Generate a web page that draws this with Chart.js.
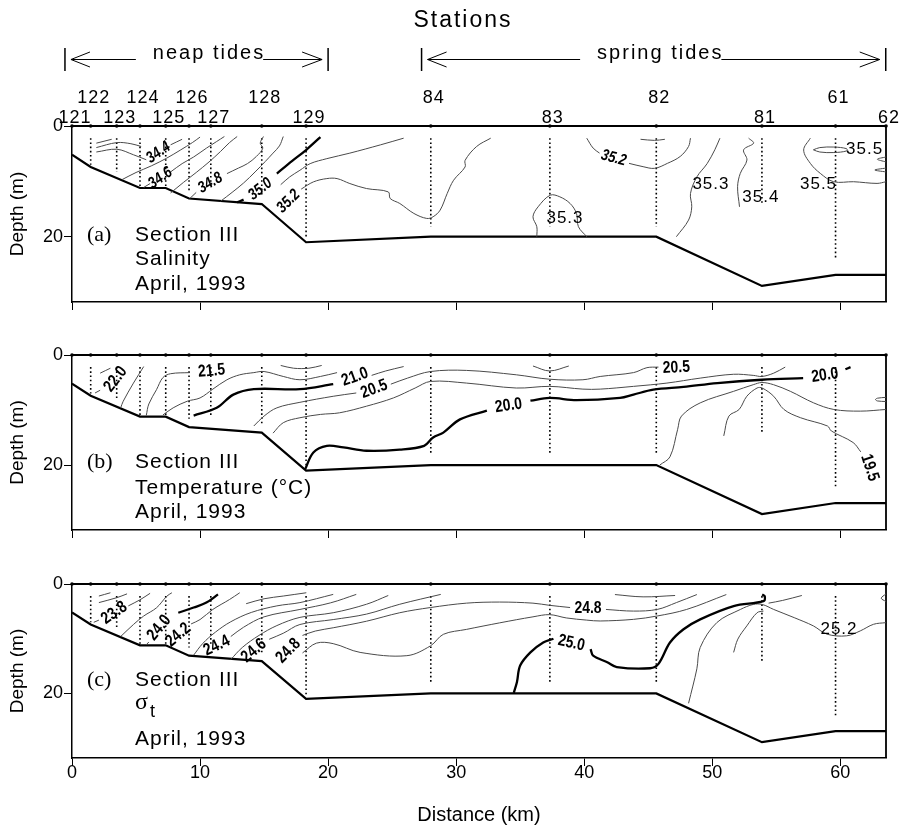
<!DOCTYPE html>
<html><head><meta charset="utf-8">
<script src="https://cdn.jsdelivr.net/npm/chart.js@4/dist/chart.umd.min.js"></script>
<style>
html,body{margin:0;padding:0;background:#fff;}
#wrap{position:relative;width:909px;height:833px;background:#fff;}
canvas{position:absolute;left:0;top:0;}
</style></head><body>
<div id="wrap">
<canvas id="ca" width="909" height="833"></canvas>
<canvas id="cb" width="909" height="833"></canvas>
<canvas id="cc" width="909" height="833"></canvas>
</div>
<script>
// ---------------- data ----------------
const stationNames = ['121','122','123','124','125','126','127','128','129','84','83','82','81','61','62'];
const stationKm    = [0, 1.46, 3.49, 5.31, 7.32, 9.14, 10.84, 14.82, 18.28, 28.02, 37.32, 45.63, 53.88, 59.63, 63.57];
const stationRow   = [2,1,2,1,2,1,2,1,2,1,2,1,2,1,2];
const castTop      = 2.2;
const castDepth    = [null, 7.0, 8.3, 11.0, 11.0, 11.6, 11.0, 12.8, 20.4, 18.2, 18.2, 18.2, 14.2, 24.2, null];
const bottomKm     = [0, 1.46, 5.31, 7.32, 9.14, 14.82, 18.28, 28.02, 45.63, 53.88, 59.63, 63.57];
const bottomDepth  = [5.2, 7.4, 11.2, 11.2, 13.1, 14.1, 21.0, 20.0, 20.0, 28.9, 26.9, 26.9];
const xTickStep = 10;
const yTickValues = [0, 20];
const xMax = 63.57, yMax = 31.8;
const neapSpan = [-0.55, 20.0], neapTextKm = 10.7;
const springSpan = [27.3, 63.55], springTextKm = 45.94;

// (a) salinity contours  [km, depth]; null = label gap
const sal_a1  = [[1.9,3.1],[3.1,2.4]];
const sal_a2  = [[1.9,3.9],[3.5,3.0],[4.6,3.2],[5.4,3.7]];
const sal_344 = [[1.9,4.7],[3.5,4.2],[4.8,5.2],[5.8,6.1],null,[7.7,3.4],[8.6,2.4]];
const sal_345 = [[3.9,9.7],[5.0,8.4],[6.2,7.2],[7.4,5.8],[8.5,4.3],[9.4,3.0],[10.0,2.0]];
const sal_346 = [[5.6,11.1],[6.1,10.4],null,[7.7,8.3],[8.6,6.8],[9.5,5.6],[10.5,4.0],[11.3,2.8],[11.9,1.9]];
const sal_347 = [[7.7,12.1],[8.7,10.2],[9.7,8.4],[10.7,6.5],[11.6,4.6],[12.3,3.0],[12.9,1.9]];
const sal_348 = [[9.2,13.1],[9.7,12.0],null,[12.1,8.6],[13.0,7.6],[13.7,6.8],[14.4,5.5],[14.9,4.0],[14.7,3.1],[14.95,1.9]];
const sal_349 = [[11.6,13.6],[12.5,12.0],[13.4,10.3],[14.3,8.3],[15.1,6.4],[15.7,4.9],[16.2,3.6],[16.5,1.9]];
const sal_350 = [[12.9,13.8],[13.4,13.3],null,[16.0,8.6],[17.2,6.3],[18.3,4.3],[19.4,2.0]];
const sal_351 = [[16.3,10.6],[17.0,9.2],[17.8,8.0],[18.6,6.8],[19.9,5.9],[21.7,4.9],[24.1,3.4],[25.9,2.2]];
const sal_352 = [[17.9,11.4],[18.85,10.1],[19.9,9.5],[20.7,9.5],[21.7,10.4],[23.0,11.3],[24.7,11.9],[24.85,13.1],[25.6,14.0],[26.7,15.8],[27.7,16.7],[28.2,16.4],[28.75,15.2],[29.3,12.2],[29.8,9.8],[30.7,7.4],[30.7,6.2],[31.6,3.7],[32.7,2.2]];
const sal_352b = [[40.2,2.2],[40.7,4.0],[41.2,4.9],null,[43.5,6.75],[44.6,7.35],[45.5,7.65],[46.5,6.75],[47.5,5.5],[48.15,3.7],[48.3,2.2]];
const sal_352c = [[44.4,2.4],[45.5,2.6],[46.3,2.4]];
const sal_353a = [[36.3,20.0],[36.3,18.2],[36.0,16.4],[36.4,14.6],[37.35,12.5],[38.1,12.8],[38.9,14.0],[39.4,15.8],[39.55,18.2],[40.2,20.0]];
const sal_353b = [[50.6,2.2],[50.2,4.3],[49.6,6.8],[48.8,9.2],[48.3,12.2],[48.4,14.6],[48.15,17.0],[47.2,20.0]];
const sal_354 = [[52.84,2.2],[53.23,3.1],[52.45,4.3],[52.71,6.15],[52.19,8.56],[51.98,10.97],[52.13,14.6]];
const sal_355 = [[57.66,2.2],[57.14,4.34],[57.66,6.75],[58.44,8.56],[59.48,10.07],[61.04,10.07],[62.87,10.37],[63.57,10.07]];
const sal_355e = [[57.9,4.3],[58.4,3.9],[59.5,3.8],[60.5,4.1],[60.5,4.5],[59.5,4.8],[58.4,4.7],[57.9,4.3]];
const sal_355f = [[63.57,5.6],[62.9,6.0],[63.57,6.5]];
const sal_355g = [[63.57,7.6],[62.7,7.95],[63.57,8.3]];
const salLabels = [['34.4',6.75,4.8],['34.6',6.9,9.4],['34.8',10.8,10.3],['35.0',14.7,11.4],['35.2',16.9,13.6],['35.2',42.3,5.8],['35.3',38.5,16.7],['35.3',49.9,10.5],['35.4',53.8,12.8],['35.5',58.3,10.6],['35.5',61.9,4.3]];
const salLabelAngle = [-35,-35,-30,-38,-45,15,0,0,0,0,0];
const salLabelBold  = [1,1,1,1,1,1,0,0,0,0,0];

// (b) temperature contours
const tmp_a1  = [[2.2,3.3],[3.0,2.4]];
const tmp_220 = [[1.8,6.9],[2.2,6.4]];
const tmp_219 = [[3.8,9.6],[4.0,8.4],[4.8,5.1],[5.6,2.1]];
const tmp_215 = [[5.8,11.0],[6.0,8.9],[6.6,6.3],[7.1,4.1],[7.7,3.4],[9.2,3.2]];
const tmp_213 = [[7.1,10.9],[7.9,9.6],[9.0,8.4],[10.0,7.8],[11.0,6.2],[12.1,4.5],[13.1,3.6],[14.2,3.2],[15.0,3.0],[16.5,3.9],[17.8,4.5],[19.4,3.9],[20.7,3.2]];
const tmp_210 = [[9.5,11.0],[11.3,9.6],[12.6,7.2],[14.2,6.2],[17.8,6.2],[20.4,5.3]];
const tmp_207 = [[23.4,3.7],[24.5,2.9],[25.9,2.1]];
const tmp_211 = [[16.3,1.9],[17.3,2.4],[18.5,2.4],[19.5,1.9]];
const tmp_205 = [[14.2,12.9],[15.0,11.1],[16.0,9.6],[17.8,8.6],[20.4,7.5],[22.2,6.9],null,[24.9,5.3],[26.2,4.2],[28.0,3.0],[30.8,2.8],[34.7,3.6],[37.3,4.4],[39.9,4.5],[41.25,3.9],[43.85,3.2],[44.9,2.3],[45.8,2.2]];
const tmp_203 = [[15.7,14.2],[16.5,12.3],[17.8,11.4],[19.4,10.8],[20.9,10.5],[23.0,9.3],[25.1,7.8],[26.8,6.0],[28.0,4.8],[30.8,5.1],[34.7,6.0],[37.3,5.7],[39.9,6.2],[41.25,6.2],[43.85,5.7],[46.46,5.1],[49.06,4.2],[51.67,3.5],[53.2,3.7],[53.88,3.9],[54.8,3.3],[55.7,2.2]];
const tmp_200 = [[18.2,20.8],[18.85,17.7],[19.9,16.5],[21.2,16.8],[23.0,17.4],[25.6,17.2],[27.5,16.5],[28.2,15.0],[29.0,14.1],[30.3,11.7],[32.4,10.1],null,[35.8,8.3],[37.3,7.8],[39.4,8.2],[42.8,7.8],[43.85,7.2],[45.4,6.3],[47.76,5.8],[50.4,5.1],[53.88,4.5],[57.1,4.2],null,[60.4,2.6],[60.8,2.2]];
const tmp_198 = [[45.9,20.0],[46.7,18.5],[47.3,13.5],[47.6,11.1],[49.06,8.7],[51.67,6.6],[53.2,5.4],[53.88,5.0],[54.79,5.4],[56.1,6.6],[57.92,8.7],[59.5,9.9],[61.56,10.2],[63.57,9.9]];
const tmp_195 = [[50.9,14.7],[51.3,11.1],[52.1,9.9],[52.7,7.5],[53.5,6.0],[53.9,6.0],[54.8,7.5],[55.6,9.9],[56.9,11.4],[59.0,12.9],[59.3,13.8],[61.0,15.9],[61.6,17.6]];
const tmp_ell = [[63.57,7.7],[62.9,7.85],[62.75,8.1],[62.9,8.35],[63.57,8.45]];
const tmp_v83 = [[36.0,2.0],[37.3,2.9],[38.8,2.0]];
const tmpLabels = [['22.0',3.4,4.4],['21.5',10.9,2.9],['21.0',22.1,4.0],['20.5',23.6,6.2],['20.5',47.2,2.3],['20.0',34.1,9.2],['20.0',58.8,3.7],['19.5',62.3,20.5]];
const tmpLabelAngle = [-52,-5,-20,-20,-3,-8,-8,72];
const tmpLabelBold  = [1,1,1,1,1,1,1,1];

// (c) sigma-t contours
const sig_a1  = [[2.1,2.2],[3.0,1.6]];
const sig_a2  = [[2.1,3.4],[3.5,2.5],[4.3,1.8]];
const sig_238 = [[1.7,7.0],[2.1,6.6],null,[4.4,4.0],[5.3,2.9],[6.1,1.7]];
const sig_239 = [[3.8,9.6],[4.8,7.4],[5.6,5.85],[6.6,4.35],[7.4,2.24],[7.8,1.6]];
const sig_240a = [[5.8,11.1],[6.0,10.6]];
const sig_240 = [[8.3,5.25],[9.5,4.3],[10.5,3.4],[11.4,1.9]];
const sig_242 = [[9.3,7.3],[10.0,6.5],[11.0,4.65],[12.3,2.84],[13.1,1.6]];
const sig_243 = [[9.5,13.0],[10.2,10.9],[11.2,8.8],[12.4,6.9],[14.0,5.2],[16.0,4.0],[17.8,3.4],[20.4,1.9]];
const sig_243t = [[13.6,3.6],[15.0,2.7],[16.5,2.2],[18.3,1.6]];
const sig_244 = [[12.4,9.6],[13.4,7.9],[15.0,6.0],[17.8,4.65],[20.2,3.44],[22.2,1.9]];
const sig_245 = [[12.4,13.8],[13.3,11.6],[14.6,9.4],[16.0,7.6],[17.8,6.1],[20.4,5.25],[23.0,3.7],[24.7,2.1]];
const sig_246 = [[15.4,10.1],[16.5,9.0],[17.8,7.4],[20.4,6.5],[23.0,5.5],[25.6,3.7],[28.8,1.9]];
const sig_248 = [[18.0,9.4],[19.0,8.6],[20.4,8.0],[23.0,6.8],[25.6,5.25],[28.0,4.3],[30.8,3.5],[33.4,3.3],[36.0,3.5],[37.3,3.9],[38.9,4.3],null,[41.7,4.65],[43.85,4.95],[45.7,4.65],[47.2,3.4],[48.8,1.93]];
const sig_249 = [[18.0,12.6],[19.1,10.8],[20.4,10.9],[22.5,12.5],[26.15,13.1],[28.0,11.3],[29.0,9.2],[30.8,8.3],[33.4,7.1],[36.0,6.0],[37.3,5.6],[38.6,6.2],[40.2,6.6],[41.25,6.76],[43.85,6.46],[45.7,5.85],[48.0,4.65],[51.1,1.93]];
const sig_250 = [[34.5,19.9],[34.75,17.9],[35.0,14.9],[35.8,12.5],[36.8,10.7],[37.6,10.0],null,[40.5,11.9],[40.7,13.1],[41.8,14.3],[42.55,15.2],[45.15,15.4],[45.8,14.6],[46.7,10.7],[47.76,8.27],[49.06,6.46],[51.67,4.04],[54.0,3.14],[54.1,2.24],[53.9,1.93]];
const sig_251 = [[48.15,21.8],[48.8,15.5],[49.06,11.6],[50.36,7.05],[52.2,4.65],[53.2,3.74],[53.9,3.74],[54.8,4.65],[56.4,6.15],[57.9,7.66],[58.96,9.17],[60.5,9.47],[61.56,8.57],[62.6,7.36],[63.57,7.06]];
const sig_252 = [[51.67,12.5],[52.0,10.07],[52.7,7.66],[53.5,5.25],[54.0,4.95]];
const sig_top = [[42.4,1.93],[44.6,2.35],[47.1,2.1]];
const sig_top2 = [[54.4,3.5],[55.5,3.0],[57.0,2.1]];
const sig_edge = [[63.57,1.8],[63.2,2.6],[63.57,3.2]];
const sigLabels = [['23.8',3.3,5.3],['24.0',6.8,8.0],['24.2',8.3,9.3],['24.4',11.3,11.3],['24.6',14.2,12.2],['24.8',16.9,12.2],['24.8',40.3,4.45],['25.0',39.0,10.8],['25.2',59.9,8.3]];
const sigLabelAngle = [-35,-50,-40,-25,-40,-45,0,12,0];
const sigLabelBold  = [1,1,1,1,1,1,1,1,0];

// ---------------- drawing ----------------
const SANS = '"Liberation Sans", Arial, Helvetica, sans-serif';
const SERIF = '"Liberation Serif", "Times New Roman", serif';

function P(arr){
  const out=[]; let lx=0;
  arr.forEach(p=>{ if(p){ out.push({x:p[0],y:p[1]}); lx=p[0]; } else out.push({x:lx,y:null}); });
  return out;
}
function drawTxt(ctx, s, x, y, font, o={}){
  ctx.save(); ctx.translate(x,y);
  if(o.rot) ctx.rotate(o.rot*Math.PI/180);
  if(o.sx) ctx.scale(o.sx,1);
  ctx.font=font; ctx.fillStyle='#000';
  ctx.textAlign=o.align||'left'; ctx.textBaseline=o.base||'alphabetic';
  if('letterSpacing' in ctx) ctx.letterSpacing=o.ls||'0px';
  ctx.fillText(s,0,0); ctx.restore();
}
function buildDatasets(contours){
  const ds=[];
  contours.forEach(([arr,thick])=>ds.push({data:P(arr), borderColor: thick?'#000':'#4a4a4a', borderWidth: thick?2.3:1, pointRadius:0, tension:0.35, spanGaps:false, fill:false}));
  stationKm.forEach((k,i)=>{ if(castDepth[i]==null) return;
    ds.push({data:[{x:k,y:castTop},{x:k,y:castDepth[i]}], borderColor:'#000', borderWidth:1.6, borderDash:[1.6,2.6], pointRadius:0, tension:0}); });
  ds.push({data: bottomKm.map((k,i)=>({x:k,y:bottomDepth[i]})), borderColor:'#000', borderWidth:2.2, pointRadius:0, tension:0});
  ds.push({data: stationKm.map(k=>({x:k,y:0})), borderColor:'#000', borderWidth:2, pointRadius:1.8, pointBackgroundColor:'#000', pointBorderWidth:0, tension:0, clip:false});
  ds.push({data:[{x:xMax,y:0},{x:xMax,y:yMax}], borderColor:'#000', borderWidth:1.8, pointRadius:0, tension:0, clip:false});
  return ds;
}
function textPlugin(labels, angles, bold, italic, caption){
  return { id:'txt', afterDraw(chart){
    const {ctx, chartArea:a, scales:{x,y}} = chart;
    labels.forEach((L,i)=>{
      const px=x.getPixelForValue(L[1]), py=y.getPixelForValue(L[2]);
      if(bold[i]) drawTxt(ctx, L[0], px, py, (italic?'italic ':'')+'bold '+(italic?16:17)+'px '+SANS, {rot:angles[i], sx:0.82, align:'center', base:'middle'});
      else drawTxt(ctx, L[0], px, py, '17px '+SANS, {rot:angles[i], align:'center', base:'middle', ls:'1px'});
    });
    caption.forEach(c=>{
      const font = c[3]==='serif' ? '22px '+SERIF : (c[3]||'21px '+SANS);
      drawTxt(ctx, c[0], a.left+c[1], a.top+c[2], font, {ls: c[3]==='serif'?'0px':'1px'});
    });
  }};
}
function tideBracket(ctx, xs, span, label, kc){
  const x0=xs.getPixelForValue(span[0]), x1=xs.getPixelForValue(span[1]), xc=xs.getPixelForValue(kc);
  ctx.save(); ctx.font='20px '+SANS; if('letterSpacing' in ctx) ctx.letterSpacing='2px';
  const w=ctx.measureText(label).width-2; ctx.restore();
  const tl=xc-w/2, tr=xc+w/2, ay=59.5;
  ctx.save(); ctx.strokeStyle='#000'; ctx.lineWidth=1.5;
  ctx.beginPath(); ctx.moveTo(x0,48); ctx.lineTo(x0,71); ctx.moveTo(x1,48); ctx.lineTo(x1,71); ctx.stroke();
  ctx.lineWidth=1; ctx.beginPath();
  ctx.moveTo(x0+25,ay-7.5); ctx.lineTo(x0+6,ay); ctx.lineTo(x0+25,ay+7.5);
  ctx.moveTo(x0+6,ay); ctx.lineTo(tl-18,ay);
  ctx.moveTo(tr-1,ay); ctx.lineTo(x1-6,ay);
  ctx.moveTo(x1-26,ay-7.5); ctx.lineTo(x1-6,ay); ctx.lineTo(x1-26,ay+7.5);
  ctx.stroke(); ctx.restore();
  drawTxt(ctx, label, xc, 59, '20px '+SANS, {align:'center', ls:'2px'});
}
const topPlugin = { id:'top', afterDraw(chart){
  const ctx=chart.ctx, xs=chart.scales.x;
  drawTxt(ctx,'Stations',463,27,'23px '+SANS,{align:'center',ls:'2px'});
  tideBracket(ctx,xs,neapSpan,'neap tides',neapTextKm);
  tideBracket(ctx,xs,springSpan,'spring tides',springTextKm);
  stationNames.forEach((n,i)=>{
    const px=xs.getPixelForValue(stationKm[i])+3;
    drawTxt(ctx,n,px,stationRow[i]===1?103:122.5,'18px '+SANS,{align:'center',ls:'1px'});
  });
}};

function makePanel(id, top, bottom, contours, plugins, last){
  const xH = last ? 75 : 10;
  return new Chart(document.getElementById(id), {
    type:'line',
    data:{datasets: buildDatasets(contours)},
    options:{
      responsive:false, animation:false, devicePixelRatio:1, events:[],
      layout:{padding:{top:top, bottom:833-bottom-xH, left:0, right:23}},
      plugins:{legend:{display:false}, tooltip:{enabled:false}},
      elements:{point:{radius:0}},
      scales:{
        x:{type:'linear', min:0, max:xMax, position:'bottom',
           ticks:{stepSize:xTickStep, includeBounds:false, display:last, color:'#000', padding:-2, maxRotation:0,
                  font:{family:SANS, size:18, lineHeight:1}},
           grid:{display:true, drawOnChartArea:false, drawTicks:true, tickLength:8, color:'#000', lineWidth:1},
           border:{display:true, color:'#000', width:1.5},
           title:{display:last, text:'Distance (km)', color:'#000', font:{family:SANS, size:20, lineHeight:1.1}, padding:{top:0,bottom:7}},
           afterFit:(s)=>{ s.height = xH; }},
        y:{type:'linear', reverse:true, min:0, max:yMax,
           afterBuildTicks:(s)=>{ s.ticks = yTickValues.map(v=>({value:v})); },
           ticks:{color:'#000', padding:1, font:{family:SANS, size:18}},
           grid:{display:true, drawOnChartArea:false, drawTicks:true, tickLength:8, color:'#000', lineWidth:1},
           border:{display:true, color:'#000', width:1.5},
           title:{display:true, text:'Depth (m)', color:'#000', font:{family:SANS, size:19, lineHeight:1.15}, padding:{top:7,bottom:0}},
           afterFit:(s)=>{ s.width = 72; }}
      }
    },
    plugins: plugins
  });
}

const salContours = [[sal_a1,0],[sal_a2,0],[sal_344,0],[sal_345,0],[sal_346,0],[sal_347,0],[sal_348,0],[sal_349,0],[sal_350,1],[sal_351,0],[sal_352,0],[sal_352b,0],[sal_352c,0],[sal_353a,0],[sal_353b,0],[sal_354,0],[sal_355,0],[sal_355e,0],[sal_355f,0],[sal_355g,0]];
const tmpContours = [[tmp_a1,0],[tmp_220,0],[tmp_219,0],[tmp_215,0],[tmp_213,0],[tmp_210,1],[tmp_207,0],[tmp_211,0],[tmp_205,0],[tmp_203,0],[tmp_200,1],[tmp_198,0],[tmp_195,0],[tmp_ell,0],[tmp_v83,0]];
const sigContours = [[sig_a1,0],[sig_a2,0],[sig_238,0],[sig_239,0],[sig_240a,0],[sig_240,1],[sig_242,0],[sig_243,0],[sig_243t,0],[sig_244,0],[sig_245,0],[sig_246,0],[sig_248,0],[sig_249,0],[sig_250,1],[sig_251,0],[sig_252,0],[sig_top,0],[sig_top2,0],[sig_edge,0]];

Chart.defaults.color = '#000';
makePanel('ca', 126, 302, salContours, [topPlugin, textPlugin(salLabels, salLabelAngle, salLabelBold, true,
  [['(a)',15,115,'serif'],['Section III',63,115],['Salinity',63,139],['April, 1993',63,164]])], false);
makePanel('cb', 355, 530, tmpContours, [textPlugin(tmpLabels, tmpLabelAngle, tmpLabelBold, false,
  [['(b)',15,113,'serif'],['Section III',63,113],['Temperature (°C)',63,139],['April, 1993',63,163]])], false);
makePanel('cc', 584, 758, sigContours, [textPlugin(sigLabels, sigLabelAngle, sigLabelBold, false,
  [['(c)',15,102,'serif'],['Section III',63,102],['σ',63,125,'24px '+SERIF],['t',78,133,'18px '+SANS],['April, 1993',63,161]])], true);
</script>
</body></html>
